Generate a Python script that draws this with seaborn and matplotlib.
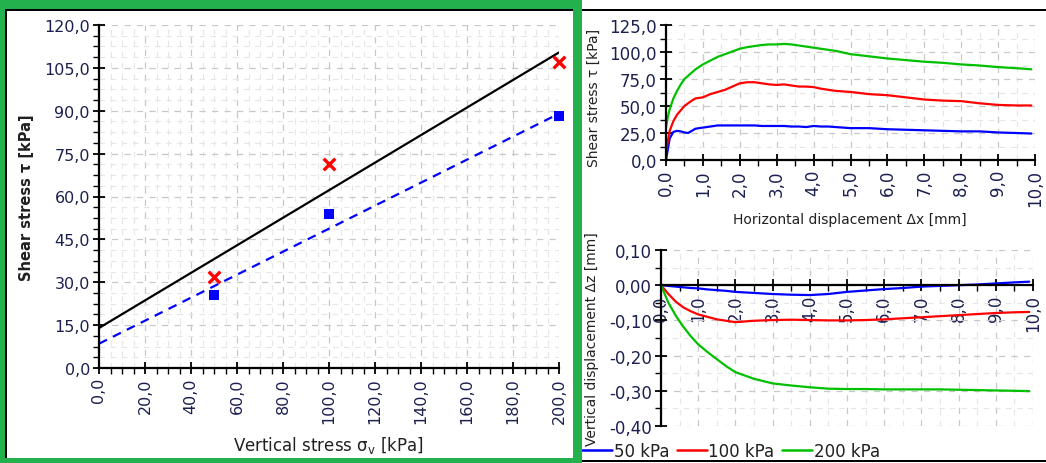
import numpy as np
import pandas as pd
import seaborn as sns
import matplotlib
matplotlib.use('Agg')
import matplotlib.pyplot as plt
from matplotlib.ticker import MultipleLocator, FuncFormatter
from matplotlib.patches import Rectangle
from matplotlib.lines import Line2D

# ---------------- data ----------------
sigma_v = [50, 100, 200]
tau_peak = [31.8, 71.2, 107.2]
tau_residual = [25.6, 53.9, 88.3]
fit_x = [0, 200]
fit_peak = [14.0, 110.4]
fit_residual = [8.5, 89.0]

series_labels = ['50 kPa', '100 kPa', '200 kPa']
series_colors = ['#0000ff', '#ff0000', '#00c000']

dx_shear = [0, 0.05, 0.1, 0.2, 0.3, 0.4, 0.5, 0.6, 0.7, 0.8,
            1.0, 1.2, 1.4, 1.6, 1.8, 2.0, 2.2, 2.4, 2.6, 2.8,
            3.0, 3.2, 3.4, 3.6, 3.8, 4.0, 4.2, 4.4, 4.6, 4.8,
            5.0, 5.5, 6.0, 6.5, 7.0, 7.5, 8.0, 8.5, 9.0, 9.5, 9.9]
tau_50 = [0, 10, 20, 26, 27, 26.5, 25.5, 25, 27, 29,
          30, 31, 32, 32, 32, 32, 32, 32, 31.5, 31.5,
          31.5, 31.5, 31, 31, 30.5, 31.5, 31, 31, 30.5, 30,
          29.5, 29.5, 28.5, 28, 27.5, 27, 26.5, 26.5, 25.5, 25, 24.5]
tau_100 = [8, 18, 27, 36, 42, 46, 50, 52.5, 55, 57,
           58, 61, 63, 65, 68, 71, 72, 72, 71, 70,
           69.5, 70, 69, 68, 68, 67.5, 66, 65, 64, 63.5,
           63, 61, 60, 58, 56, 55, 54.5, 52.5, 51, 50.5, 50.5]
tau_200 = [30, 40, 47, 57, 64, 70, 75, 78, 81, 84,
           88.5, 92, 95.5, 98, 100.5, 103, 104.5, 105.5, 106.5, 107,
           107, 107.5, 107, 106, 105, 104, 103, 102, 101, 99.5,
           98, 96, 94, 92.5, 91, 90, 88.5, 87.5, 86, 85, 84]

dx_vert = [0, 0.2, 0.4, 0.6, 0.8, 1.0, 1.25, 1.5, 1.75, 2.0, 2.5, 3.0, 3.5,
           4.0, 4.5, 5.0, 5.5, 6.0, 6.5, 7.0, 7.5, 8.0, 8.5, 9.0, 9.5, 9.9]
dz_50 = [0, -0.002, -0.004, -0.006, -0.008, -0.009, -0.012, -0.014, -0.016, -0.019,
         -0.022, -0.025, -0.027, -0.028, -0.025, -0.019, -0.015, -0.011, -0.008,
         -0.004, -0.002, 0.0, 0.002, 0.005, 0.008, 0.010]
dz_100 = [0, -0.025, -0.047, -0.063, -0.074, -0.083, -0.090, -0.097, -0.101, -0.105,
          -0.101, -0.099, -0.098, -0.099, -0.100, -0.100, -0.099, -0.097, -0.094,
          -0.091, -0.088, -0.085, -0.082, -0.079, -0.077, -0.076]
dz_200 = [0, -0.05, -0.087, -0.118, -0.145, -0.168, -0.19, -0.21, -0.23, -0.247,
          -0.266, -0.279, -0.285, -0.290, -0.294, -0.295, -0.295, -0.296, -0.296,
          -0.296, -0.296, -0.297, -0.298, -0.299, -0.300, -0.301]

# ---------------- style ----------------
sns.set_style('white')
plt.rcParams['font.family'] = ['DejaVu Sans']
plt.rcParams['mathtext.fontset'] = 'dejavusans'

W, H = 1046, 464
fig = plt.figure(figsize=(W / 100, H / 100), dpi=100)
fig.patch.set_facecolor('white')

TICK_COLOR = '#1c2050'
LABEL_COLOR = '#202020'


def px_axes(left, top, right, bottom):
    return fig.add_axes([left / W, 1 - bottom / H, (right - left) / W, (bottom - top) / H])


def comma_fmt(dec):
    def f(v, p):
        if abs(v) < 1e-9:
            v = 0.0
        return f"{v:.{dec}f}".replace('.', ',')
    return FuncFormatter(f)


def style_axes(ax, xmaj, xmin, ymaj, ymin, xdec, ydec, tick_fs):
    ax.set_facecolor('white')
    for s in ['top', 'right']:
        ax.spines[s].set_visible(False)
    for s in ['left', 'bottom']:
        ax.spines[s].set_visible(True)
        ax.spines[s].set_color('black')
        ax.spines[s].set_linewidth(1.6)
    ax.xaxis.set_major_locator(MultipleLocator(xmaj))
    ax.xaxis.set_minor_locator(MultipleLocator(xmin))
    ax.yaxis.set_major_locator(MultipleLocator(ymaj))
    ax.yaxis.set_minor_locator(MultipleLocator(ymin))
    ax.xaxis.set_major_formatter(comma_fmt(xdec))
    ax.yaxis.set_major_formatter(comma_fmt(ydec))
    ax.tick_params(which='major', direction='inout', length=9, width=1.3,
                   color='black', labelsize=tick_fs, labelcolor=TICK_COLOR,
                   bottom=True, left=True, pad=2)
    ax.tick_params(which='minor', direction='out', length=4, width=1.0,
                   color='black', bottom=True, left=True)
    ax.tick_params(axis='x', which='major', labelrotation=90)
    ax.grid(True, which='major', color='#c8c8c8', linestyle=(0, (5, 5)), linewidth=0.9)
    ax.grid(True, which='minor', color='#e6e6e6', linestyle=(0, (5, 5)), linewidth=0.8)
    ax.set_axisbelow(True)


# ---------------- left panel: failure envelope ----------------
ax1 = px_axes(99, 26, 559, 369)
sns.lineplot(x=fit_x, y=fit_peak, ax=ax1, color='black', linewidth=1.6)
sns.lineplot(x=fit_x, y=fit_residual, ax=ax1, color='#0000ff', linewidth=1.6)
ax1.lines[-1].set_linestyle((0, (4, 3)))
sns.scatterplot(x=sigma_v, y=tau_peak, ax=ax1, marker='x', color='#ff0000',
                s=70, linewidth=2.4, zorder=5)
sns.scatterplot(x=sigma_v, y=tau_residual, ax=ax1, marker='s', color='#0000ff',
                s=45, linewidth=0, zorder=5)
for coll in ax1.collections:
    coll.set_clip_on(False)
ax1.set_xlim(0, 200)
ax1.set_ylim(0, 120)
style_axes(ax1, 20, 5, 15, 3.75, 1, 1, 11.5)
ax1.set_xlabel(r'Vertical stress $\mathregular{\sigma_v}$ [kPa]', fontsize=12, color=LABEL_COLOR)
ax1.set_ylabel('Shear stress τ [kPa]', fontsize=10.5, fontweight='bold', color=LABEL_COLOR)
ax1.xaxis.set_label_coords(0.498, -0.192)
ax1.yaxis.set_label_coords(-0.141, 0.50)

# ---------------- top right: shear stress vs displacement ----------------
ax2 = px_axes(666, 26, 1035, 161)
for vals, c in zip([tau_50, tau_100, tau_200], series_colors):
    sns.lineplot(x=dx_shear, y=vals, ax=ax2, color=c, linewidth=1.6,
                 estimator=None, sort=False)
ax2.set_xlim(0, 10)
ax2.set_ylim(0, 125)
style_axes(ax2, 1, 0.5, 25, 12.5, 1, 1, 12)
ax2.set_xlabel('Horizontal displacement Δx [mm]', fontsize=10, color=LABEL_COLOR)
ax2.set_ylabel('Shear stress τ [kPa]', fontsize=10, color=LABEL_COLOR)
ax2.xaxis.set_label_coords(0.499, -0.385)
ax2.yaxis.set_label_coords(-0.176, 0.47)

# ---------------- bottom right: vertical displacement ----------------
ax3 = px_axes(661, 251, 1033, 427)
for vals, c in zip([dz_50, dz_100, dz_200], series_colors):
    sns.lineplot(x=dx_vert, y=vals, ax=ax3, color=c, linewidth=1.6,
                 estimator=None, sort=False)
ax3.set_xlim(0, 10)
ax3.set_ylim(-0.40, 0.10)
style_axes(ax3, 1, 0.5, 0.1, 0.05, 1, 2, 12)
ax3.spines['bottom'].set_position(('data', 0))
ax3.set_xlabel('')
ax3.set_ylabel('Vertical displacement Δz [mm]', fontsize=10, color=LABEL_COLOR)
ax3.yaxis.set_label_coords(-0.167, 0.50)

# ---------------- legend ----------------
handles = [Line2D([0], [0], color=c, linewidth=1.8) for c in series_colors]
fig.legend(handles, series_labels, loc='center left',
           bbox_to_anchor=(582 / W, 1 - 452 / H), ncol=3, frameon=False,
           fontsize=12, handlelength=1.8, handletextpad=0.1, columnspacing=0.45,
           borderpad=0, borderaxespad=0, labelcolor=LABEL_COLOR)

# ---------------- frames ----------------
GREEN = '#22b14c'


def px_rect(x0, y0, x1, y1, color):
    fig.add_artist(Rectangle((x0 / W, 1 - y1 / H), (x1 - x0) / W, (y1 - y0) / H,
                             transform=fig.transFigure, facecolor=color,
                             edgecolor='none', zorder=100))


# black lines
px_rect(0, 9.5, W, 12, 'black')
px_rect(5, 9.5, 7, 459, 'black')
px_rect(580, 461, W, 463, 'black')
# green frame
px_rect(0, 0, 578, 9.5, GREEN)
px_rect(0, 0, 5, H, GREEN)
px_rect(0, 459, 582, H, GREEN)
px_rect(573, 0, 582, H, GREEN)

fig.savefig('out.png', dpi=100, facecolor='white')
